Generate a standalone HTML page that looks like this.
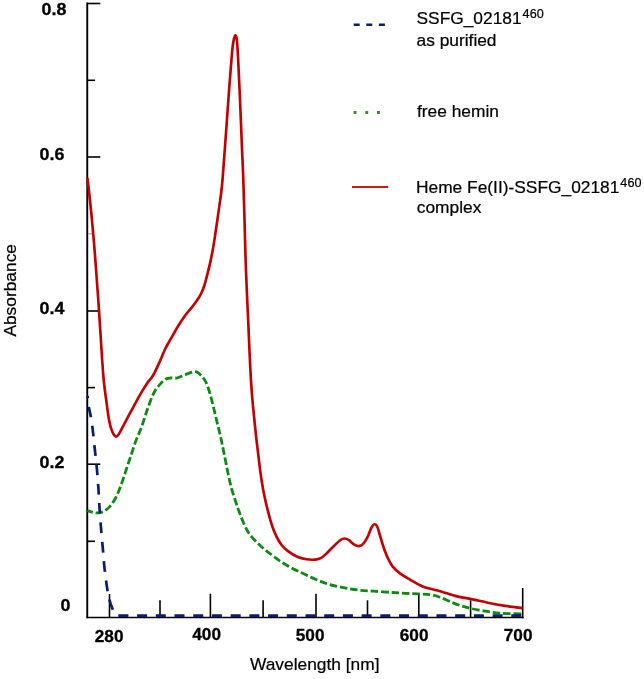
<!DOCTYPE html>
<html><head><meta charset="utf-8"><title>Absorbance spectra</title>
<style>html,body{margin:0;padding:0;background:#fff}svg{display:block}</style></head>
<body>
<svg width="644" height="679" viewBox="0 0 644 679" font-family='"Liberation Sans", sans-serif'>
<rect width="644" height="679" fill="#fff"/>
<g stroke="#000" fill="none">
<path d="M87.25 2.6V618.3" stroke-width="1.9"/>
<path d="M86.6 617.5H523.6" stroke-width="1.7"/>
<g stroke-width="1.6">
<path d="M87.2 3.5H100.3"/>
<path d="M87.2 80.3H95"/>
<path d="M87.2 157.0H100.3"/>
<path d="M88 233.8H92.5" stroke="#999" stroke-width="1"/>
<path d="M87.2 311.0H99.3"/>
<path d="M87.2 387.6H95"/>
<path d="M87.2 464.2H100.3"/>
<path d="M87.2 541.3H95"/>
<path d="M109.5 594V617.5"/>
<path d="M160 600.3V617.5"/>
<path d="M210.4 593.7V617.5"/>
<path d="M263.1 600.3V617.5"/>
<path d="M316 593.7V617.5"/>
<path d="M367.5 600.3V617.5"/>
<path d="M418.8 593.7V617.5"/>
<path d="M470.6 600.3V617.5"/>
<path d="M522.7 588V618.3"/>
</g></g>
<path d="M87.5 510.6C88.5 510.9 91.4 512.1 93.3 512.5C95.2 512.9 97.3 513.0 99.1 512.8C100.9 512.5 102.6 512.0 104.3 511.0C106.0 510.0 107.9 508.6 109.5 506.9C111.1 505.2 112.4 503.4 113.9 501.0C115.4 498.6 116.8 495.6 118.3 492.2C119.8 488.8 121.2 484.6 122.7 480.4C124.2 476.2 125.6 471.5 127.1 467.1C128.6 462.7 130.0 458.3 131.5 453.9C133.0 449.5 134.3 445.0 136.0 440.6C137.7 436.2 139.5 432.5 141.4 427.4C143.3 422.3 145.2 415.6 147.2 410.0C149.2 404.4 151.4 397.9 153.5 393.6C155.6 389.3 157.9 386.7 160.0 384.3C162.1 381.9 164.2 380.1 166.0 379.0C167.8 377.9 169.1 378.2 171.0 378.0C172.9 377.8 175.3 378.4 177.5 377.9C179.7 377.4 181.6 376.1 183.9 375.2C186.2 374.3 189.3 373.0 191.4 372.4C193.5 371.8 194.9 371.3 196.5 371.8C198.1 372.3 199.6 373.8 201.2 375.5C202.8 377.2 204.4 379.1 205.8 382.0C207.2 384.9 208.5 388.6 209.8 393.0C211.1 397.4 212.4 402.8 213.7 408.2C215.0 413.6 216.5 419.9 217.8 425.2C219.1 430.5 220.2 434.9 221.3 440.0C222.4 445.1 223.4 450.4 224.5 455.6C225.6 460.8 226.5 466.0 227.6 471.2C228.7 476.4 229.8 481.9 231.1 486.8C232.4 491.8 234.1 496.7 235.4 500.9C236.8 505.1 237.8 508.2 239.2 511.8C240.5 515.4 242.0 519.2 243.5 522.7C245.0 526.2 246.7 529.7 248.4 532.5C250.1 535.3 252.0 537.2 253.9 539.3C255.8 541.4 257.8 543.4 259.9 545.3C262.0 547.2 264.0 548.9 266.4 550.8C268.8 552.7 271.2 554.7 274.1 556.8C277.0 558.9 279.9 561.1 283.9 563.5C287.8 565.9 292.9 568.7 297.8 571.1C302.7 573.5 307.9 575.9 313.0 578.1C318.1 580.3 323.2 582.6 328.3 584.2C333.4 585.8 338.4 586.6 343.5 587.6C348.6 588.6 353.6 589.5 358.7 590.1C363.8 590.7 368.3 590.8 373.9 591.2C379.5 591.6 387.3 592.1 392.5 592.5C397.7 592.9 400.8 593.1 405.0 593.3C409.2 593.5 413.4 593.7 417.6 593.9C421.8 594.1 426.3 594.0 430.0 594.6C433.7 595.2 436.7 596.0 440.0 597.2C443.3 598.4 446.7 600.2 450.0 601.6C453.3 603.0 456.6 604.3 460.0 605.4C463.4 606.5 465.9 607.3 470.1 608.3C474.3 609.3 480.2 610.4 485.2 611.2C490.2 612.0 493.9 612.8 500.2 613.2C506.4 613.7 519.0 613.8 522.7 613.9" fill="none" stroke="#0e8a14" stroke-width="2.8" stroke-dasharray="7.5 2.9" stroke-dashoffset="2"/>
<path d="M87.5 396.0C87.8 398.0 88.4 404.4 89.0 408.0C89.6 411.6 90.3 413.5 91.0 417.5C91.7 421.5 92.3 426.4 93.0 432.0C93.7 437.6 94.3 444.7 95.0 451.0C95.7 457.3 96.4 463.5 97.0 470.0C97.6 476.5 98.1 483.7 98.5 490.0C98.9 496.3 99.1 501.7 99.5 508.0C99.9 514.3 100.5 521.3 101.0 528.0C101.5 534.7 102.2 541.5 102.8 548.0C103.4 554.5 103.7 560.7 104.4 567.0C105.1 573.3 106.0 580.5 106.8 586.0C107.6 591.5 108.5 596.1 109.5 600.0C110.5 603.9 111.7 607.1 112.7 609.4C113.7 611.7 114.5 613.0 115.5 614.0C116.5 615.0 118.4 615.2 119.0 615.5" fill="none" stroke="#0a1e6e" stroke-width="2.7" stroke-dasharray="10.8 8.6" stroke-dashoffset="8.6"/>
<path d="M118.4 615.65H523.5" fill="none" stroke="#0a1e6e" stroke-width="2.8" stroke-dasharray="10 8.71"/>
<path d="M87.5 178.0C87.8 180.8 88.8 189.3 89.4 195.0C90.0 200.7 90.5 204.8 91.2 212.0C91.9 219.2 92.8 229.0 93.6 238.0C94.4 247.0 95.1 257.0 95.8 266.0C96.5 275.0 97.1 283.8 97.7 292.0C98.3 300.2 98.8 307.0 99.3 315.0C99.8 323.0 100.4 332.2 100.9 340.0C101.4 347.8 101.8 355.0 102.3 362.0C102.8 369.0 103.3 376.1 103.9 382.0C104.5 387.9 105.0 391.3 105.9 397.7C106.8 404.1 108.0 414.6 109.1 420.2C110.1 425.8 111.1 428.8 112.2 431.5C113.3 434.2 114.6 436.1 115.7 436.5C116.8 436.9 117.2 436.5 118.8 434.2C120.3 431.9 122.7 426.9 125.0 422.6C127.3 418.3 130.1 413.0 132.6 408.4C135.1 403.8 137.6 399.1 140.0 394.9C142.4 390.7 145.2 386.2 147.3 383.0C149.5 379.8 151.0 379.0 152.9 375.8C154.8 372.6 156.6 368.4 158.7 363.9C160.8 359.4 163.2 353.2 165.3 348.8C167.4 344.4 169.4 341.4 171.5 337.6C173.6 333.9 175.7 330.1 178.0 326.3C180.3 322.5 183.1 318.3 185.5 315.0C187.9 311.7 190.5 309.2 192.7 306.3C194.9 303.4 197.2 300.2 198.9 297.5C200.6 294.8 201.6 292.5 202.7 290.0C203.8 287.5 203.9 287.3 205.2 282.7C206.4 278.1 208.7 269.3 210.2 262.6C211.7 255.9 212.8 250.1 214.0 242.6C215.2 235.1 216.4 226.4 217.7 217.6C218.9 208.8 220.4 199.6 221.5 190.0C222.6 180.4 223.2 170.7 224.0 160.0C224.8 149.3 225.8 136.3 226.5 126.0C227.2 115.7 227.8 107.9 228.5 98.0C229.2 88.1 230.2 75.1 230.9 66.8C231.6 58.5 232.0 52.7 232.5 48.0C233.0 43.3 233.5 40.7 234.0 38.6C234.5 36.5 235.0 35.2 235.4 35.2C235.8 35.2 236.3 36.5 236.7 38.6C237.0 40.7 237.2 43.3 237.5 48.0C237.8 52.7 238.2 59.8 238.5 66.8C238.8 73.8 239.2 80.3 239.6 90.2C240.0 100.1 240.7 115.8 241.1 126.0C241.5 136.2 241.7 141.8 242.1 151.2C242.5 160.6 243.0 169.9 243.4 182.4C243.8 194.9 244.3 213.2 244.7 226.0C245.1 238.8 245.2 248.3 245.6 259.0C245.9 269.7 246.4 279.5 246.8 290.2C247.2 300.9 247.9 312.8 248.3 323.0C248.8 333.2 249.0 341.3 249.5 351.2C250.0 361.1 250.5 373.0 251.1 382.4C251.7 391.8 252.4 400.1 253.1 407.4C253.8 414.7 254.4 420.6 255.0 426.0C255.6 431.4 255.9 435.1 256.5 440.0C257.1 444.9 257.7 449.9 258.4 455.6C259.1 461.3 259.8 468.1 260.7 474.3C261.6 480.5 262.6 487.0 263.8 493.0C265.0 499.0 266.3 504.7 267.7 510.2C269.1 515.7 270.6 521.4 272.1 525.8C273.6 530.2 274.9 533.4 276.5 536.7C278.1 540.0 280.1 543.1 282.0 545.5C283.9 547.9 285.6 549.3 288.0 551.1C290.4 552.9 293.6 555.1 296.7 556.5C299.8 557.9 303.4 558.8 306.5 559.3C309.6 559.8 312.8 559.8 315.2 559.6C317.6 559.4 318.9 559.2 320.7 558.2C322.5 557.2 323.9 555.9 326.1 553.9C328.3 551.9 331.4 548.5 333.7 546.2C336.0 543.9 338.4 541.5 340.2 540.2C342.0 538.9 343.2 538.5 344.6 538.5C346.1 538.5 347.3 539.2 348.9 540.2C350.5 541.2 352.7 543.6 354.3 544.6C355.9 545.6 357.2 546.2 358.7 546.1C360.1 546.0 361.6 545.6 363.0 544.1C364.4 542.6 366.0 540.1 367.4 537.4C368.8 534.7 370.1 530.2 371.3 528.0C372.5 525.8 373.3 524.5 374.3 524.3C375.3 524.0 376.2 524.4 377.2 526.5C378.2 528.6 379.3 533.3 380.4 537.0C381.5 540.7 382.8 545.1 384.0 548.5C385.2 551.9 386.2 554.6 387.6 557.6C389.0 560.6 390.4 563.7 392.5 566.3C394.6 568.9 397.1 571.2 400.0 573.4C402.9 575.6 406.2 577.4 410.0 579.6C413.8 581.8 418.0 584.6 422.6 586.4C427.2 588.2 432.2 589.0 437.6 590.6C443.0 592.2 449.7 594.5 455.1 595.9C460.5 597.3 464.7 597.8 470.1 598.9C475.5 600.0 481.9 601.5 487.7 602.7C493.5 603.9 499.4 605.0 505.2 605.9C511.0 606.8 519.8 607.8 522.7 608.2" fill="none" stroke="#c00000" stroke-width="2.65" stroke-linejoin="round"/>
<g font-weight="bold" fill="#000" stroke="#000" stroke-width="0.3">
<text font-size="17.2" transform="translate(41.5 15.3) scale(1.04 1)">0.8</text>
<text font-size="17.2" transform="translate(39.5 160.3) scale(1.04 1)">0.6</text>
<text font-size="17.2" transform="translate(39.5 314.3) scale(1.04 1)">0.4</text>
<text font-size="17.2" transform="translate(39.5 467.5) scale(1.04 1)">0.2</text>
<text font-size="17.2" transform="translate(60.4 610.5) scale(1.04 1)">0</text>
<text font-size="17.2" x="94.8" y="642.0">280</text>
<text font-size="17.2" x="192.3" y="640.0">400</text>
<text font-size="17.2" x="295.8" y="640.9">500</text>
<text font-size="17.2" x="399.8" y="640.7">600</text>
<text font-size="17.2" x="503.8" y="640.7">700</text>
</g>
<g font-size="17.35" fill="#000" stroke="#000" stroke-width="0.22">
<text transform="translate(15.5 336.6) rotate(-90)">Absorbance</text>
<text x="250" y="670.3">Wavelength [nm]</text>
<text x="416.5" y="24.4">SSFG_02181<tspan font-size="12.6" dx="0.9" dy="-6.4" letter-spacing="0.15">460</tspan></text>
<text x="416.5" y="46.4">as purified</text>
<text x="417" y="117.3">free hemin</text>
<text x="416" y="192.8">Heme Fe(II)-SSFG_02181<tspan font-size="12.6" dx="0.9" dy="-6.0" letter-spacing="0.15">460</tspan></text>
<text x="416.8" y="213.4">complex</text>
</g>
<path d="M353.7 24.8H386" stroke="#0a1e6e" stroke-width="2.5" stroke-dasharray="6 6.6" fill="none"/>
<path d="M353.6 112.4H381" stroke="#3f8a2a" stroke-width="3" stroke-dasharray="2.9 8.8" fill="none"/>
<path d="M352 186.9H388.2" stroke="#cc1a1a" stroke-width="2" fill="none"/>
</svg>
</body></html>
